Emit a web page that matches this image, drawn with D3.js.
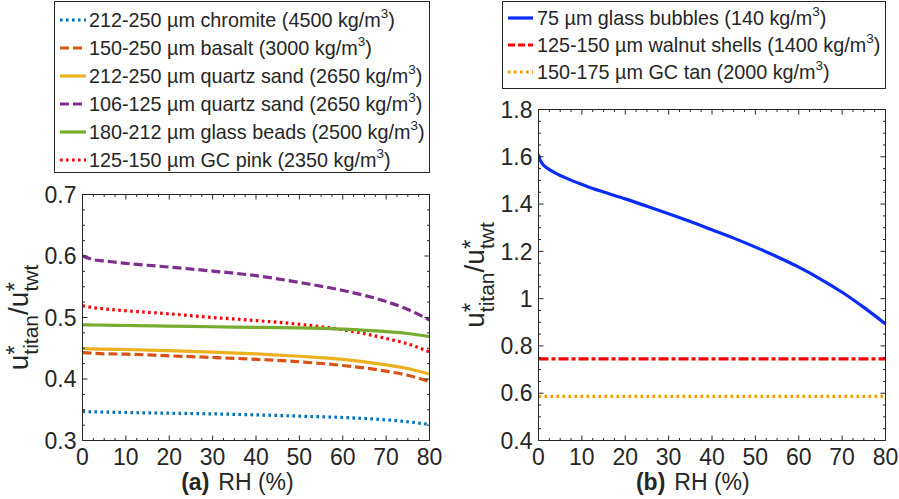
<!DOCTYPE html>
<html><head><meta charset="utf-8">
<script src="https://cdn.jsdelivr.net/npm/d3@7"></script>
<style>
body{margin:0;background:#fff;}
svg{display:block;}
text{font-family:"Liberation Sans",Arial,Helvetica,sans-serif;fill:#262626;}
</style></head>
<body><svg id="c" width="899" height="499"></svg>
<script>
// ---------- DATA ----------
const rhA = [0, 2.5, 5, 10, 20, 30, 40, 50, 60, 70, 75, 80];
const chromite   = [0.347,0.3466,0.3462,0.3455,0.3444,0.3433,0.3417,0.3396,0.3374,0.3336,0.3305,0.326];
const basalt     = [0.443,0.4418,0.441,0.4404,0.4377,0.435,0.432,0.428,0.422,0.4127,0.406,0.396];
const quartz212  = [0.450,0.449,0.4485,0.448,0.446,0.4437,0.441,0.437,0.432,0.423,0.417,0.408];
const quartz106  = [0.600,0.594,0.592,0.588,0.582,0.5755,0.568,0.557,0.544,0.526,0.513,0.496];
const glassBeads = [0.488,0.4878,0.4876,0.487,0.486,0.485,0.484,0.483,0.481,0.477,0.474,0.469];
const gcPink     = [0.519,0.516,0.514,0.511,0.506,0.500,0.495,0.489,0.480,0.466,0.457,0.444];

const rhB = [0,0.25,0.5,1,2,3,4,5,6,8,10,12.5,15,20,25,30,35,40,45,50,55,60,65,70,75,80];
const glassBubbles = [1.61,1.592,1.582,1.568,1.552,1.540,1.530,1.521,1.513,1.497,1.483,1.466,1.451,1.422,1.391,1.359,1.326,1.291,1.256,1.218,1.177,1.133,1.083,1.027,0.963,0.893];
const walnutShells = rhB.map(() => 0.745);
const gcTan        = rhB.map(() => 0.587);

const xTicks = [0,10,20,30,40,50,60,70,80];
const yTicksA = [0.3,0.4,0.5,0.6,0.7];
const yTicksB = [0.4,0.6,0.8,1,1.2,1.4,1.6,1.8];

const seriesA = [
  {label:"212-250 µm chromite (4500 kg/m", y:chromite,   color:"#0072BD", dash:"2.6,3.4"},
  {label:"150-250 µm basalt (3000 kg/m",   y:basalt,     color:"#D95319", dash:"9,4"},
  {label:"212-250 µm quartz sand (2650 kg/m", y:quartz212, color:"#EDB120", dash:null},
  {label:"106-125 µm quartz sand (2650 kg/m", y:quartz106, color:"#7E2F8E", dash:"9,4"},
  {label:"180-212 µm glass beads (2500 kg/m", y:glassBeads, color:"#77AC30", dash:null},
  {label:"125-150 µm GC pink (2350 kg/m",  y:gcPink,     color:"#FF0000", dash:"2.6,3.4"}
];
const seriesB = [
  {label:"75 µm glass bubbles (140 kg/m",     y:glassBubbles, color:"#0a2cff", dash:null},
  {label:"125-150 µm walnut shells (1400 kg/m", y:walnutShells, color:"#FF0000", dash:"10,3,4,3"},
  {label:"150-175 µm GC tan (2000 kg/m",      y:gcTan, color:"#FF9900", dash:"2.6,3.4"}
];

const svg = d3.select("#c");
const AX = "#262626";

function panel(o){
  const g = svg.append("g");
  const x = d3.scaleLinear().domain([0,80]).range([o.x0,o.x1]);
  const y = d3.scaleLinear().domain(o.ydom).range([o.y1,o.y0]);
  const line = d3.line().x((d,i)=>x(o.rh[i])).y(d=>y(d)).curve(d3.curveMonotoneX);
  const clipId = "clip"+o.id;
  svg.append("clipPath").attr("id",clipId).append("rect")
    .attr("x",o.x0).attr("y",o.y0-3).attr("width",o.x1-o.x0+2).attr("height",o.y1-o.y0+6);
  o.series.slice().reverse().forEach(s=>{
    g.append("path").attr("d",line(s.y)).attr("fill","none")
     .attr("stroke",s.color).attr("stroke-width",3.2)
     .attr("stroke-dasharray",s.dash).attr("stroke-linecap","butt")
     .attr("clip-path",`url(#${clipId})`);
  });
  g.append("rect").attr("x",o.x0).attr("y",o.y0).attr("width",o.x1-o.x0).attr("height",o.y1-o.y0)
    .attr("fill","none").attr("stroke",AX).attr("stroke-width",1);
  const xMinor = d3.range(0,80.01,2.5);
  const yMinor = d3.range(o.ydom[0], o.ydom[1]+1e-9, o.ystepMinor);
  const tk = g.append("g").attr("stroke",AX).attr("stroke-width",1);
  xMinor.forEach(v=>{
    const major = xTicks.includes(v); const L = major?5:2.5;
    tk.append("line").attr("x1",x(v)).attr("x2",x(v)).attr("y1",o.y1).attr("y2",o.y1-L);
    tk.append("line").attr("x1",x(v)).attr("x2",x(v)).attr("y1",o.y0).attr("y2",o.y0+L);
  });
  yMinor.forEach(v=>{
    const major = o.yticks.some(t=>Math.abs(t-v)<1e-6); const L = major?5:2.5;
    tk.append("line").attr("y1",y(v)).attr("y2",y(v)).attr("x1",o.x0).attr("x2",o.x0+L);
    tk.append("line").attr("y1",y(v)).attr("y2",y(v)).attr("x1",o.x1).attr("x2",o.x1-L);
  });
  xTicks.forEach(v=>{
    g.append("text").attr("x",x(v)).attr("y",465).attr("text-anchor","middle")
     .attr("font-size",23).text(v);
  });
  o.yticks.forEach(v=>{
    g.append("text").attr("x",o.x0-6).attr("y",y(v)).attr("dy","0.36em").attr("text-anchor","end")
     .attr("font-size",23).text(d3.format("~g")(v));
  });
  const cx = (o.x0+o.x1)/2, XF = 23;
  g.append("text").attr("x",cx).attr("y",490).attr("text-anchor","middle").attr("font-size",XF).text("RH (%)");
  const rhW = XF*(0.722+0.722+0.278+0.333+0.889+0.333);
  g.append("text").attr("x",cx-rhW/2-9).attr("y",490).attr("text-anchor","end")
   .attr("font-size",XF).attr("font-weight","bold").text(o.tag);
  // y label
  const F = 28, S = 21, SS = 24, starW = 0.389*SS;
  const yl = g.append("text").attr("transform",`translate(${o.ylx},${(o.y0+o.y1)/2}) rotate(-90)`)
    .attr("text-anchor","middle").attr("font-size",F);
  yl.append("tspan").text("u");
  yl.append("tspan").attr("font-size",SS).attr("dy",-5).text("*");
  yl.append("tspan").attr("font-size",S).attr("dx",-starW).attr("dy",15).text("titan");
  yl.append("tspan").attr("dy",-10).text("/u");
  yl.append("tspan").attr("font-size",SS).attr("dy",-5).text("*");
  yl.append("tspan").attr("font-size",S).attr("dx",-starW).attr("dy",15).text("twt");
  // legend
  const L = o.leg;
  svg.append("rect").attr("x",L.x0).attr("y",L.y0).attr("width",L.x1-L.x0).attr("height",L.y1-L.y0)
    .attr("fill","#fff").attr("stroke",AX).attr("stroke-width",1);
  o.series.forEach((s,i)=>{
    const yy = L.first + i*L.step;
    svg.append("line").attr("x1",L.sx0).attr("x2",L.sx1).attr("y1",yy).attr("y2",yy)
      .attr("stroke",s.color).attr("stroke-width",3.2).attr("stroke-dasharray",s.dash==="10,3,4,3"?"7,3":s.dash);
    const t = svg.append("text").attr("x",L.tx).attr("y",yy).attr("dy","0.36em").attr("font-size",19.8).attr("fill","#000");
    t.append("tspan").text(s.label);
    t.append("tspan").attr("font-size",13.5).attr("dy",-9).text("3");
    t.append("tspan").attr("dy",9).text(")");
  });
}

panel({id:"a", x0:82.5, x1:429.5, y0:194.5, y1:440.5, ydom:[0.3,0.7], ystepMinor:0.025, yticks:yTicksA,
  rh:rhA, series:seriesA, tag:"(a)", ylx:28,
  leg:{x0:54.5,x1:429.5,y0:1.5,y1:172.5, first:20, step:28, sx0:60, sx1:86, tx:89}});
panel({id:"b", x0:538.5, x1:885.5, y0:109.5, y1:440.5, ydom:[0.4,1.8], ystepMinor:0.05, yticks:yTicksB,
  rh:rhB, series:seriesB, tag:"(b)", ylx:484,
  leg:{x0:502.5,x1:885.5,y0:1.5,y1:88.5, first:18, step:27, sx0:508, sx1:533, tx:537}});
</script></body></html>
